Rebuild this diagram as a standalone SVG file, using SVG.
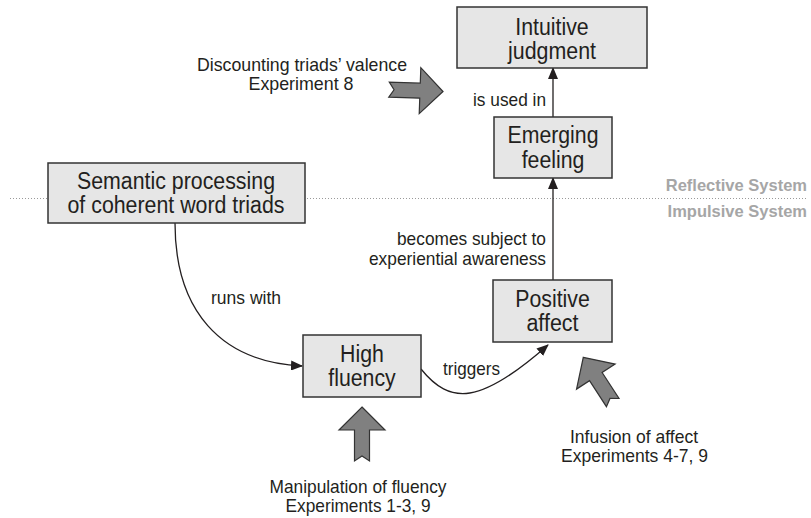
<svg xmlns="http://www.w3.org/2000/svg" width="811" height="518" viewBox="0 0 811 518">
<style>
text{font-family:"Liberation Sans",Arial,sans-serif;fill:#231f20}
.box{fill:#e6e6e6;stroke:#333;stroke-width:1.5}
.bt{font-size:23.5px;text-anchor:middle}
.lb{font-size:18.5px}
.c{text-anchor:middle}
.r{text-anchor:end}
.sys{font-size:16.5px;font-weight:bold;fill:#a6a6a6;text-anchor:end}
.edge{fill:none;stroke:#231f20;stroke-width:1.3}
.big{fill:#808080;stroke:#333;stroke-width:1.2;stroke-linejoin:miter}
</style>
<defs>
<marker id="ah" viewBox="0 0 12 10" refX="11" refY="5" markerWidth="12" markerHeight="10" markerUnits="userSpaceOnUse" orient="auto">
<path d="M0,0 L12,5 L0,10 Z" fill="#231f20"/>
</marker>
<path id="blk" d="M0,0 L23,23 L7.5,23 L7.5,54 L0,49 L-7.5,54 L-7.5,23 L-23,23 Z"/>
</defs>
<g id="divider">
<line x1="10" y1="198.5" x2="808" y2="198.5" stroke="#9a9a9a" stroke-width="1" stroke-dasharray="1,2"/>
<text class="sys" x="807" y="191">Reflective System</text>
<text class="sys" x="807" y="217">Impulsive System</text>
</g>
<g id="connectors">
<line class="edge" x1="553" y1="117" x2="553" y2="68" marker-end="url(#ah)"/>
<line class="edge" x1="553" y1="280" x2="553" y2="178" marker-end="url(#ah)"/>
<path class="edge" d="M175,223 C175,310 220,362 302,366" marker-end="url(#ah)"/>
<path class="edge" d="M421,369 C450,405 480,405 548,345" marker-end="url(#ah)"/>
<text class="lb r" x="546" y="106" textLength="73" lengthAdjust="spacingAndGlyphs">is used in</text>
<text class="lb r" x="546" y="245" textLength="149" lengthAdjust="spacingAndGlyphs">becomes subject to</text>
<text class="lb r" x="546" y="265" textLength="177" lengthAdjust="spacingAndGlyphs">experiential awareness</text>
<text class="lb" x="211" y="304" textLength="70" lengthAdjust="spacingAndGlyphs">runs with</text>
<text class="lb" x="443" y="375" textLength="57" lengthAdjust="spacingAndGlyphs">triggers</text>
</g>
<g id="intuitive">
<rect class="box" x="457" y="7" width="190" height="61"/>
<text class="bt" x="552" y="35" textLength="73.4" lengthAdjust="spacingAndGlyphs">Intuitive</text>
<text class="bt" x="552" y="59" textLength="88" lengthAdjust="spacingAndGlyphs">judgment</text>
</g>
<g id="emerging">
<rect class="box" x="494" y="117" width="118" height="61"/>
<text class="bt" x="553" y="143" textLength="91" lengthAdjust="spacingAndGlyphs">Emerging</text>
<text class="bt" x="553" y="168" textLength="62.7" lengthAdjust="spacingAndGlyphs">feeling</text>
</g>
<g id="semantic">
<rect class="box" x="48" y="163" width="257" height="60"/>
<text class="bt" x="176" y="189" textLength="198" lengthAdjust="spacingAndGlyphs">Semantic processing</text>
<text class="bt" x="176" y="213" textLength="217" lengthAdjust="spacingAndGlyphs">of coherent word triads</text>
</g>
<g id="positive">
<rect class="box" x="493" y="280" width="119" height="62"/>
<text class="bt" x="552.5" y="307" textLength="74.6" lengthAdjust="spacingAndGlyphs">Positive</text>
<text class="bt" x="552.5" y="331" textLength="52.1" lengthAdjust="spacingAndGlyphs">affect</text>
</g>
<g id="fluency">
<rect class="box" x="303" y="335" width="118" height="62"/>
<text class="bt" x="362" y="362" textLength="43.8" lengthAdjust="spacingAndGlyphs">High</text>
<text class="bt" x="362" y="386" textLength="67.5" lengthAdjust="spacingAndGlyphs">fluency</text>
</g>
<g id="discounting">
<use href="#blk" class="big" transform="translate(443,91.5) rotate(92)"/>
<text class="lb c" x="302" y="71" textLength="210" lengthAdjust="spacingAndGlyphs">Discounting triads’ valence</text>
<text class="lb c" x="301" y="90" textLength="105" lengthAdjust="spacingAndGlyphs">Experiment 8</text>
</g>
<g id="manipulation">
<use href="#blk" class="big" transform="translate(362,407)"/>
<text class="lb c" x="358" y="493" textLength="177" lengthAdjust="spacingAndGlyphs">Manipulation of fluency</text>
<text class="lb c" x="358" y="512" textLength="145" lengthAdjust="spacingAndGlyphs">Experiments 1-3, 9</text>
</g>
<g id="infusion">
<use href="#blk" class="big" transform="translate(583.3,357.3) rotate(-33)"/>
<text class="lb c" x="634" y="443" textLength="128" lengthAdjust="spacingAndGlyphs">Infusion of affect</text>
<text class="lb c" x="634.5" y="462" textLength="147" lengthAdjust="spacingAndGlyphs">Experiments 4-7, 9</text>
</g>
</svg>
